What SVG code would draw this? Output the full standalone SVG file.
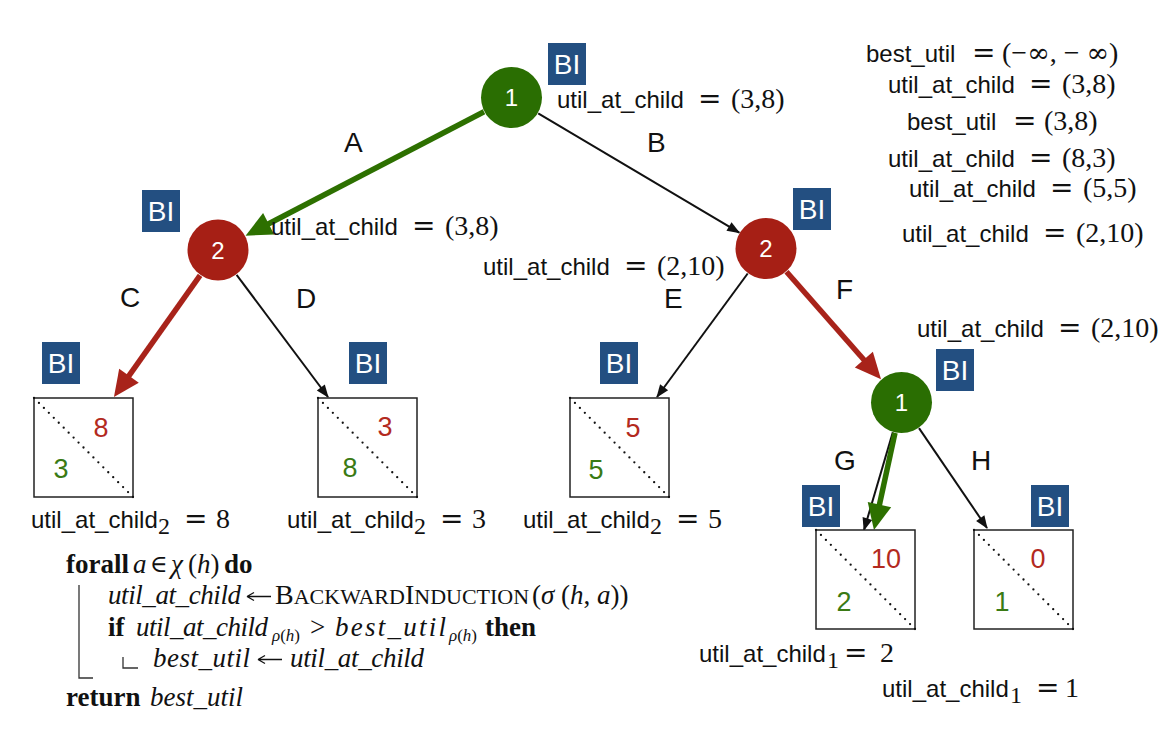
<svg xmlns="http://www.w3.org/2000/svg" width="1162" height="733" viewBox="0 0 1162 733">
<style>
.sf{font-family:"Liberation Sans",Arial,sans-serif;font-size:24px;fill:#111}
.el{font-family:"Liberation Sans",Arial,sans-serif;font-size:28px;fill:#111}
.eq{font-family:"DejaVu Sans",sans-serif;font-size:28px;fill:#111}
.mv{font-family:"Liberation Serif","Times New Roman",serif;font-size:28px;fill:#111}
.inf{font-family:"DejaVu Serif",serif;font-size:27px}
.sb{font-family:"Liberation Serif","Times New Roman",serif;font-size:24px;fill:#111}
.bir{fill:#234f81}
.bit{font-family:"Liberation Sans",Arial,sans-serif;font-size:28px;fill:#fff;text-anchor:middle}
.nt{font-family:"Liberation Sans",Arial,sans-serif;font-size:24px;fill:#fff;text-anchor:middle}
.g{fill:#2a6e02}
.r{fill:#a61f15}
.lbox{fill:#fff;stroke:#222;stroke-width:1.5}
.dots{stroke:#111;stroke-width:2.3;stroke-dasharray:0 7;stroke-linecap:round}
.lt{font-family:"Liberation Sans",Arial,sans-serif;font-size:27px;text-anchor:middle}
.rn{fill:#b32a1e}
.gn{fill:#3a7a14}
.thin{stroke:#111;stroke-width:2;fill:none}
.tg{stroke:#2d7000;stroke-width:5.5;fill:none}
.tr{stroke:#a8231a;stroke-width:5.5;fill:none}
.ab{font-family:"Liberation Serif","Times New Roman",serif;font-size:27px;font-weight:bold;fill:#111}
.ai{font-family:"Liberation Serif","Times New Roman",serif;font-size:27px;font-style:italic;fill:#111}
.ar{font-family:"Liberation Serif","Times New Roman",serif;font-size:27px;fill:#111}
.sc{font-size:22px}
.ss{font-family:"Liberation Serif","Times New Roman",serif;font-size:17px;fill:#111}
.la{stroke:#111;stroke-width:1.3;fill:none}
</style>
<defs>
<marker id="mb" markerUnits="userSpaceOnUse" markerWidth="14" markerHeight="11" refX="12" refY="5" orient="auto" overflow="visible"><path d="M0,0 L13,5 L0,10 z" fill="#111"/></marker>
<marker id="mg" markerUnits="userSpaceOnUse" markerWidth="27" markerHeight="25" refX="14" refY="12" orient="auto" overflow="visible"><path d="M0,0 L26,12 L0,24 z" fill="#2d7000"/></marker>
<marker id="mr" markerUnits="userSpaceOnUse" markerWidth="27" markerHeight="25" refX="14" refY="12" orient="auto" overflow="visible"><path d="M0,0 L26,12 L0,24 z" fill="#a8231a"/></marker>
</defs>

<g id="connectors">
<line class="tg" x1="484" y1="111.7" x2="256.2" y2="230.2" marker-end="url(#mg)"/>
<line class="thin" x1="538.2" y1="113.3" x2="739.3" y2="232.7" marker-end="url(#mb)"/>
<line class="tr" x1="200.1" y1="275.3" x2="120.9" y2="387.2" marker-end="url(#mr)"/>
<line class="thin" x1="236.6" y1="274.8" x2="328" y2="397" marker-end="url(#mb)"/>
<line class="thin" x1="747.7" y1="273.5" x2="657" y2="397" marker-end="url(#mb)"/>
<line class="tr" x1="786.5" y1="271.8" x2="873.1" y2="370.2" marker-end="url(#mr)"/>
<line class="thin" x1="892.8" y1="432.2" x2="864" y2="530" marker-end="url(#mb)"/>
<line class="tg" x1="895" y1="432.8" x2="876.5" y2="518.3" marker-end="url(#mg)"/>
<line class="thin" x1="919" y1="428.1" x2="987" y2="528" marker-end="url(#mb)"/>
<text class="el" x="344" y="152">A</text>
<text class="el" x="647" y="152">B</text>
<text class="el" x="120" y="307">C</text>
<text class="el" x="296" y="308">D</text>
<text class="el" x="664" y="308">E</text>
<text class="el" x="836" y="299">F</text>
<text class="el" x="834" y="470">G</text>
<text class="el" x="971" y="470">H</text>
</g>

<g id="node-root">
<circle class="g" cx="511.5" cy="97.5" r="30.5"/>
<text class="nt" x="511.5" y="106">1</text>
<rect class="bir" x="548" y="43" width="38" height="42"/><text class="bit" x="567" y="74">BI</text>
</g>
<g id="node-p2-left">
<circle class="r" cx="218" cy="250" r="30.5"/>
<text class="nt" x="218" y="258.5">2</text>
<rect class="bir" x="142" y="190" width="38" height="42"/><text class="bit" x="161" y="221">BI</text>
</g>
<g id="node-p2-right">
<circle class="r" cx="766" cy="248.5" r="30.5"/>
<text class="nt" x="766" y="257">2</text>
<rect class="bir" x="793" y="188" width="38" height="42"/><text class="bit" x="812" y="219">BI</text>
</g>
<g id="node-p1-low">
<circle class="g" cx="901.5" cy="402.5" r="30.5"/>
<text class="nt" x="901.5" y="411">1</text>
<rect class="bir" x="936" y="349" width="38" height="42"/><text class="bit" x="955" y="380">BI</text>
</g>

<g id="leaf-C">
<rect class="lbox" x="34" y="398" width="99" height="99"/>
<line class="dots" x1="34" y1="398" x2="133" y2="497"/>
<text class="lt rn" x="101" y="437">8</text>
<text class="lt gn" x="61" y="478">3</text>
<rect class="bir" x="42" y="342" width="38" height="42"/><text class="bit" x="61" y="373">BI</text>
</g>
<g id="leaf-D">
<rect class="lbox" x="318" y="398" width="99" height="99"/>
<line class="dots" x1="318" y1="398" x2="417" y2="497"/>
<text class="lt rn" x="385" y="436">3</text>
<text class="lt gn" x="350" y="477">8</text>
<rect class="bir" x="349" y="342" width="38" height="42"/><text class="bit" x="368" y="373">BI</text>
</g>
<g id="leaf-E">
<rect class="lbox" x="570" y="398" width="99" height="99"/>
<line class="dots" x1="570" y1="398" x2="669" y2="497"/>
<text class="lt rn" x="633" y="437">5</text>
<text class="lt gn" x="596" y="479">5</text>
<rect class="bir" x="600" y="342" width="38" height="42"/><text class="bit" x="619" y="373">BI</text>
</g>
<g id="leaf-G">
<rect class="lbox" x="816" y="530" width="99" height="99"/>
<line class="dots" x1="816" y1="530" x2="915" y2="629"/>
<text class="lt rn" x="886" y="568">10</text>
<text class="lt gn" x="844" y="611">2</text>
<rect class="bir" x="802" y="485" width="38" height="42"/><text class="bit" x="821" y="516">BI</text>
</g>
<g id="leaf-H">
<rect class="lbox" x="974" y="530" width="99" height="99"/>
<line class="dots" x1="974" y1="530" x2="1073" y2="629"/>
<text class="lt rn" x="1038" y="568">0</text>
<text class="lt gn" x="1002" y="611">1</text>
<rect class="bir" x="1031" y="485" width="38" height="42"/><text class="bit" x="1050" y="516">BI</text>
</g>

<g id="annotations">
<text class="sf" x="557" y="108">util_at_child</text><text class="eq" x="698" y="108">=</text><text class="mv" x="731" y="108">(3,8)</text>
<text class="sf" x="866" y="62">best_util</text><text class="eq" x="972" y="62">=</text><text class="mv" x="1002" y="62">(−<tspan class="inf">∞</tspan>, − <tspan class="inf">∞</tspan>)</text>
<text class="sf" x="888" y="93">util_at_child</text><text class="eq" x="1029" y="93">=</text><text class="mv" x="1062" y="93">(3,8)</text>
<text class="sf" x="907" y="130">best_util</text><text class="eq" x="1013" y="130">=</text><text class="mv" x="1044" y="130">(3,8)</text>
<text class="sf" x="888" y="167">util_at_child</text><text class="eq" x="1029" y="167">=</text><text class="mv" x="1062" y="167">(8,3)</text>
<text class="sf" x="909" y="197">util_at_child</text><text class="eq" x="1050" y="197">=</text><text class="mv" x="1083" y="197">(5,5)</text>
<text class="sf" x="902" y="242">util_at_child</text><text class="eq" x="1043" y="242">=</text><text class="mv" x="1076" y="242">(2,10)</text>
<text class="sf" x="271" y="235">util_at_child</text><text class="eq" x="412" y="235">=</text><text class="mv" x="445" y="235">(3,8)</text>
<text class="sf" x="483" y="275">util_at_child</text><text class="eq" x="624" y="275">=</text><text class="mv" x="657" y="275">(2,10)</text>
<text class="sf" x="917" y="337">util_at_child</text><text class="eq" x="1058" y="337">=</text><text class="mv" x="1091" y="337">(2,10)</text>

<text class="sf" x="31" y="528">util_at_child</text><text class="sb" x="158" y="534">2</text><text class="eq" x="184" y="528">=</text><text class="mv" x="216" y="528">8</text>
<text class="sf" x="287" y="528">util_at_child</text><text class="sb" x="414" y="534">2</text><text class="eq" x="440" y="528">=</text><text class="mv" x="472" y="528">3</text>
<text class="sf" x="523" y="528">util_at_child</text><text class="sb" x="650" y="534">2</text><text class="eq" x="676" y="528">=</text><text class="mv" x="708" y="528">5</text>
<text class="sf" x="699" y="662">util_at_child</text><text class="sb" x="827" y="668">1</text><text class="eq" x="844" y="662">=</text><text class="mv" x="880" y="662">2</text>
<text class="sf" x="882" y="697">util_at_child</text><text class="sb" x="1010" y="703">1</text><text class="eq" x="1036" y="697">=</text><text class="mv" x="1065" y="697">1</text>
</g>

<g id="algorithm">
<path d="M79,585 V678 H93" fill="none" stroke="#333" stroke-width="1.3"/>
<path d="M123,657 V668 H138" fill="none" stroke="#333" stroke-width="1.3"/>
<text class="ab" x="66" y="573">forall</text>
<text class="ai" x="133" y="573">a</text>
<text x="150" y="572" style="font-family:'DejaVu Serif',serif;font-size:24px;fill:#111">∈</text>
<text class="ai" x="171" y="573">χ</text>
<text class="ar" x="188" y="573">(<tspan class="ai">h</tspan>)</text>
<text class="ab" x="224" y="573">do</text>

<text class="ai" x="108" y="604" textLength="133" lengthAdjust="spacing">util_at_child</text>
<path class="la" d="M247,596.5 H271 M247,596.5 l7,-4 M247,596.5 l7,4"/>
<text class="ar" x="275" y="604" style="font-size:28px">B<tspan class="sc">ACKWARD</tspan>I<tspan class="sc">NDUCTION</tspan></text>
<text class="ar" x="532" y="604">(<tspan class="ai">σ</tspan> (<tspan class="ai">h</tspan>, <tspan class="ai">a</tspan>))</text>

<text class="ab" x="108" y="636">if</text>
<text class="ai" x="136" y="636" textLength="132" lengthAdjust="spacing">util_at_child</text>
<text class="ss" x="272" y="641"><tspan font-style="italic">ρ</tspan>(<tspan font-style="italic">h</tspan>)</text>
<text class="ar" x="310" y="636">&gt;</text>
<text class="ai" x="335" y="636" textLength="111" lengthAdjust="spacing">best_util</text>
<text class="ss" x="449" y="641"><tspan font-style="italic">ρ</tspan>(<tspan font-style="italic">h</tspan>)</text>
<text class="ab" x="485" y="636">then</text>

<text class="ai" x="153" y="667" textLength="97" lengthAdjust="spacing">best_util</text>
<path class="la" d="M258,659.5 H282 M258,659.5 l7,-4 M258,659.5 l7,4"/>
<text class="ai" x="290" y="667" textLength="134" lengthAdjust="spacing">util_at_child</text>

<text class="ab" x="66" y="706">return</text>
<text class="ai" x="150" y="706">best_util</text>
</g>
</svg>
